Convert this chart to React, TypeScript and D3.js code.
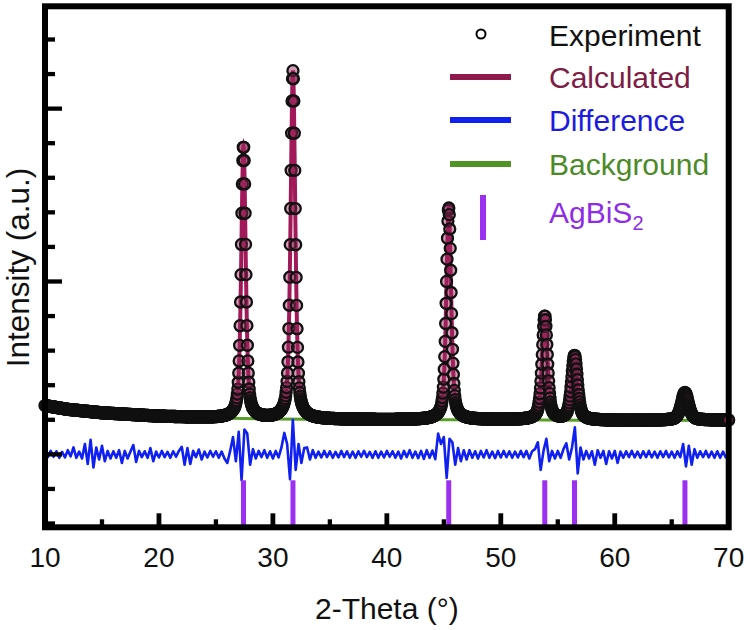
import * as d3 from 'd3';
import * as React from 'react';

// AgBiS2 reflections (2-theta, net height above background, FWHM)
const peakTheta = [27.42, 31.76, 45.43, 53.86, 56.47, 66.16];
const peakHeight = [7.88, 10.07, 6.13, 3.0, 1.86, 0.8];
const peakFwhm = [0.46, 0.48, 0.5, 0.55, 0.62, 0.75];
const lorentzFraction = 0.5;

// background anchor points
const bgTheta = [10, 12, 15, 20, 25, 30, 40, 50, 60, 70];
const bgLevel = [1.41, 1.3, 1.2, 1.1, 1.05, 1.02, 1.0, 1.0, 0.98, 0.99];

// Bragg tick positions
const braggTheta = [27.42, 31.76, 45.43, 53.86, 56.47, 66.16];

// difference curve (obs - calc), read every 0.25 deg from 10 to 70
const diffStart = 10;
const diffStep = 0.25;
const diffValues = [
  0.06, -0.08, 0.1, -0.07, 0.09, -0.1, 0.07, -0.09, 0.12, -0.06, 0.2, -0.1, 0.08, -0.12, 0.3, -0.28,
  0.42, -0.38, 0.2, -0.15, 0.25, -0.2, 0.1, -0.12, 0.09, -0.1, 0.12, -0.25, 0.1, -0.12, 0.08, 0.27,
  -0.22, 0.1, -0.08, 0.09, -0.1, 0.18, -0.2, 0.08, -0.09, 0.1, -0.08, 0.07, -0.1, 0.09, -0.07, 0.1,
  0.22, -0.3, 0.18, -0.28, 0.1, -0.08, 0.14, -0.15, 0.08, -0.09, 0.1, -0.07, 0.09, -0.1, 0.08, -0.12,
  -0.25, 0.1, 0.5, -0.2, 0.65, -0.75, 0.72, 0.6, -0.3, 0.15, -0.12, 0.1, -0.08, 0.12, -0.1, 0.09,
  -0.12, 0.1, -0.09, 0.2, 0.62, 0.3, -0.72, 1.0, -0.45, 0.3, -0.25, 0.18, 0.2, -0.15, 0.12, -0.1,
  0.08, -0.09, 0.1, -0.08, 0.09, -0.1, 0.07, -0.09, 0.1, -0.08, 0.09, -0.1, 0.08, -0.1, 0.09, -0.07,
  0.1, -0.08, 0.07, -0.1, 0.09, -0.1, 0.08, -0.09, 0.1, -0.07, 0.09, -0.1, 0.08, -0.12, 0.1, -0.08,
  0.12, -0.1, 0.08, -0.11, 0.1, -0.13, 0.12, -0.1, 0.11, -0.14, 0.6, 0.3, 0.5, -0.68, 0.45, 0.35,
  -0.3, 0.18, -0.2, 0.12, -0.15, 0.12, -0.1, 0.09, -0.12, 0.1, -0.09, 0.12, -0.1, 0.08, -0.11, 0.1,
  -0.09, 0.1, -0.08, 0.09, -0.1, 0.08, -0.09, 0.1, -0.08, 0.1, -0.12, 0.09, 0.15, 0.35, -0.45, 0.1,
  0.45, -0.2, 0.1, -0.12, 0.1, -0.1, 0.15, 0.32, -0.15, 0.2, 0.78, -0.55, 0.2, -0.15, 0.1, -0.12,
  0.09, -0.3, 0.12, -0.1, 0.1, -0.28, 0.09, -0.12, 0.1, -0.25, 0.08, -0.1, 0.09, -0.08, 0.1, -0.09,
  0.08, -0.1, 0.09, -0.08, 0.1, -0.09, 0.08, -0.1, 0.09, -0.08, 0.1, -0.09, 0.08, -0.1, 0.09, -0.08,
  0.3, -0.35, 0.25, -0.3, 0.15, -0.1, 0.09, -0.08, 0.1, -0.09, 0.08, -0.1, 0.09, -0.1, 0.08, -0.09,
  0.05,
];

const xTickValues = [10, 20, 30, 40, 50, 60, 70];
const xMinorTicks = [15, 25, 35, 45, 55, 65];
const yMinorTicks = [-2, -1, 1, 2, 3, 4, 6, 7, 8, 9, 11, 12];
const yMajorTicks = [0, 5, 10];

const legendItems = [
  { label: 'Experiment', color: '#111111', kind: 'circle' },
  { label: 'Calculated', color: '#7d1c45', line: '#8e1a4e', kind: 'line' },
  { label: 'Difference', color: '#1c1ce0', line: '#1020ee', kind: 'line' },
  { label: 'Background', color: '#4c8a28', line: '#4f9424', kind: 'line' },
  { label: 'AgBiS', sub: '2', color: '#8e2ce8', line: '#9b30f0', kind: 'bar' },
];

const FONT = "'Liberation Sans', Arial, Helvetica, sans-serif";

const App = () => {
  const svgRef = React.useRef<SVGSVGElement>(null);

  React.useEffect(() => {
    const svg = d3.select(svgRef.current);
    svg.selectAll('*').remove();

    const plot = { left: 45, right: 728.7, top: 6.3, bottom: 527.3 };
    const x = d3.scaleLinear().domain([10, 70]).range([plot.left, plot.right]);
    const y = d3.scaleLinear().domain([-2.11, 12.96]).range([plot.bottom, plot.top]);
    const bg = d3.scaleLinear().domain(bgTheta).range(bgLevel);

    const profile = (t: number) =>
      bg(t) +
      d3.sum(peakTheta, (p, i) => {
        const u = (t - p) / peakFwhm[i];
        return (
          peakHeight[i] *
          (lorentzFraction / (1 + 4 * u * u) + (1 - lorentzFraction) * Math.exp(-4 * Math.LN2 * u * u))
        );
      });

    const calcTheta = d3.range(0, 6001).map((i) => 10 + i * 0.01);
    const obsTheta = d3.range(0, 1501).map((i) => 10 + i * 0.04);

    const line = d3
      .line<[number, number]>()
      .x((d) => x(d[0]))
      .y((d) => y(d[1]));

    // background
    svg
      .append('path')
      .attr('d', line(bgTheta.map((t, i) => [t, bgLevel[i]])))
      .attr('fill', 'none')
      .attr('stroke', '#5a9e2a')
      .attr('stroke-width', 3);

    // calculated
    svg
      .append('path')
      .attr('d', line(calcTheta.map((t) => [t, profile(t)])))
      .attr('fill', 'none')
      .attr('stroke', '#a2195a')
      .attr('stroke-width', 4);

    // experiment
    svg
      .append('g')
      .selectAll('circle')
      .data(obsTheta)
      .join('circle')
      .attr('cx', (t) => x(t))
      .attr('cy', (t) => y(profile(t)))
      .attr('r', 5.5)
      .attr('fill', '#9a2a5c')
      .attr('fill-opacity', 0.45)
      .attr('stroke', '#111')
      .attr('stroke-width', 2.3);

    // difference
    svg
      .append('path')
      .attr('d', line(diffValues.map((v, i) => [diffStart + i * diffStep, v])))
      .attr('fill', 'none')
      .attr('stroke', '#1020f0')
      .attr('stroke-width', 2.6)
      .attr('stroke-linejoin', 'round');

    // Bragg ticks
    svg
      .append('g')
      .selectAll('line')
      .data(braggTheta)
      .join('line')
      .attr('x1', (t) => x(t))
      .attr('x2', (t) => x(t))
      .attr('y1', y(-0.75))
      .attr('y2', plot.bottom)
      .attr('stroke', '#9b30f0')
      .attr('stroke-width', 5);

    // frame
    svg
      .append('rect')
      .attr('x', plot.left)
      .attr('y', plot.top)
      .attr('width', plot.right - plot.left)
      .attr('height', plot.bottom - plot.top)
      .attr('fill', 'none')
      .attr('stroke', '#000')
      .attr('stroke-width', 6);

    // inward ticks
    const ticks = svg.append('g').attr('stroke', '#000');
    ticks
      .selectAll('.ymin')
      .data(yMinorTicks)
      .join('line')
      .attr('x1', plot.left)
      .attr('x2', plot.left + 10)
      .attr('y1', (v) => y(v))
      .attr('y2', (v) => y(v))
      .attr('stroke-width', 4.3);
    ticks
      .selectAll('.ymaj')
      .data(yMajorTicks)
      .join('line')
      .attr('x1', plot.left)
      .attr('x2', plot.left + 17)
      .attr('y1', (v) => y(v))
      .attr('y2', (v) => y(v))
      .attr('stroke-width', 4.3);
    ticks
      .selectAll('.xmaj')
      .data(xTickValues.slice(1, -1))
      .join('line')
      .attr('x1', (t) => x(t))
      .attr('x2', (t) => x(t))
      .attr('y1', plot.bottom)
      .attr('y2', plot.bottom - 14)
      .attr('stroke-width', 4.8);
    ticks
      .selectAll('.xmin')
      .data(xMinorTicks)
      .join('line')
      .attr('x1', (t) => x(t))
      .attr('x2', (t) => x(t))
      .attr('y1', plot.bottom)
      .attr('y2', plot.bottom - 8)
      .attr('stroke-width', 4.3);

    // tick labels
    svg
      .append('g')
      .selectAll('text')
      .data(xTickValues)
      .join('text')
      .attr('x', (t) => x(t))
      .attr('y', 567)
      .attr('text-anchor', 'middle')
      .style('font-family', FONT)
      .style('font-size', '28px')
      .style('fill', '#111')
      .text((t) => t);

    // axis titles
    svg
      .append('text')
      .attr('x', (plot.left + plot.right) / 2)
      .attr('y', 619)
      .attr('text-anchor', 'middle')
      .style('font-family', FONT)
      .style('font-size', '30px')
      .style('fill', '#111')
      .text('2-Theta (°)');

    svg
      .append('text')
      .attr('transform', 'translate(28.5,267.5) rotate(-90)')
      .attr('text-anchor', 'middle')
      .style('font-family', FONT)
      .style('font-size', '31.5px')
      .style('fill', '#111')
      .text('Intensity (a.u.)');

    // legend
    const legendY = [46, 88, 131, 175, 223];
    const lg = svg.append('g');
    legendItems.forEach((item, i) => {
      const base = legendY[i];
      if (item.kind === 'circle') {
        lg.append('circle')
          .attr('cx', 481)
          .attr('cy', base - 12)
          .attr('r', 4.5)
          .attr('fill', 'none')
          .attr('stroke', '#000')
          .attr('stroke-width', 2);
      } else if (item.kind === 'line') {
        lg.append('line')
          .attr('x1', 450)
          .attr('x2', 511)
          .attr('y1', base - 11)
          .attr('y2', base - 11)
          .attr('stroke', item.line)
          .attr('stroke-width', 6);
      } else {
        lg.append('line')
          .attr('x1', 483)
          .attr('x2', 483)
          .attr('y1', base - 28)
          .attr('y2', base + 17)
          .attr('stroke', item.line)
          .attr('stroke-width', 6);
      }
      const txt = lg
        .append('text')
        .attr('x', 549)
        .attr('y', base)
        .style('font-family', FONT)
        .style('font-size', '30px')
        .style('fill', item.color)
        .text(item.label);
      if (item.sub) {
        txt.append('tspan').attr('dy', 7).style('font-size', '20px').text(item.sub);
      }
    });
  }, []);

  return (
    <div style={{ position: 'absolute', left: 0, top: 0, background: '#fff' }}>
      <svg ref={svgRef} width={750} height={630} style={{ display: 'block' }} />
    </div>
  );
};

export default App;
